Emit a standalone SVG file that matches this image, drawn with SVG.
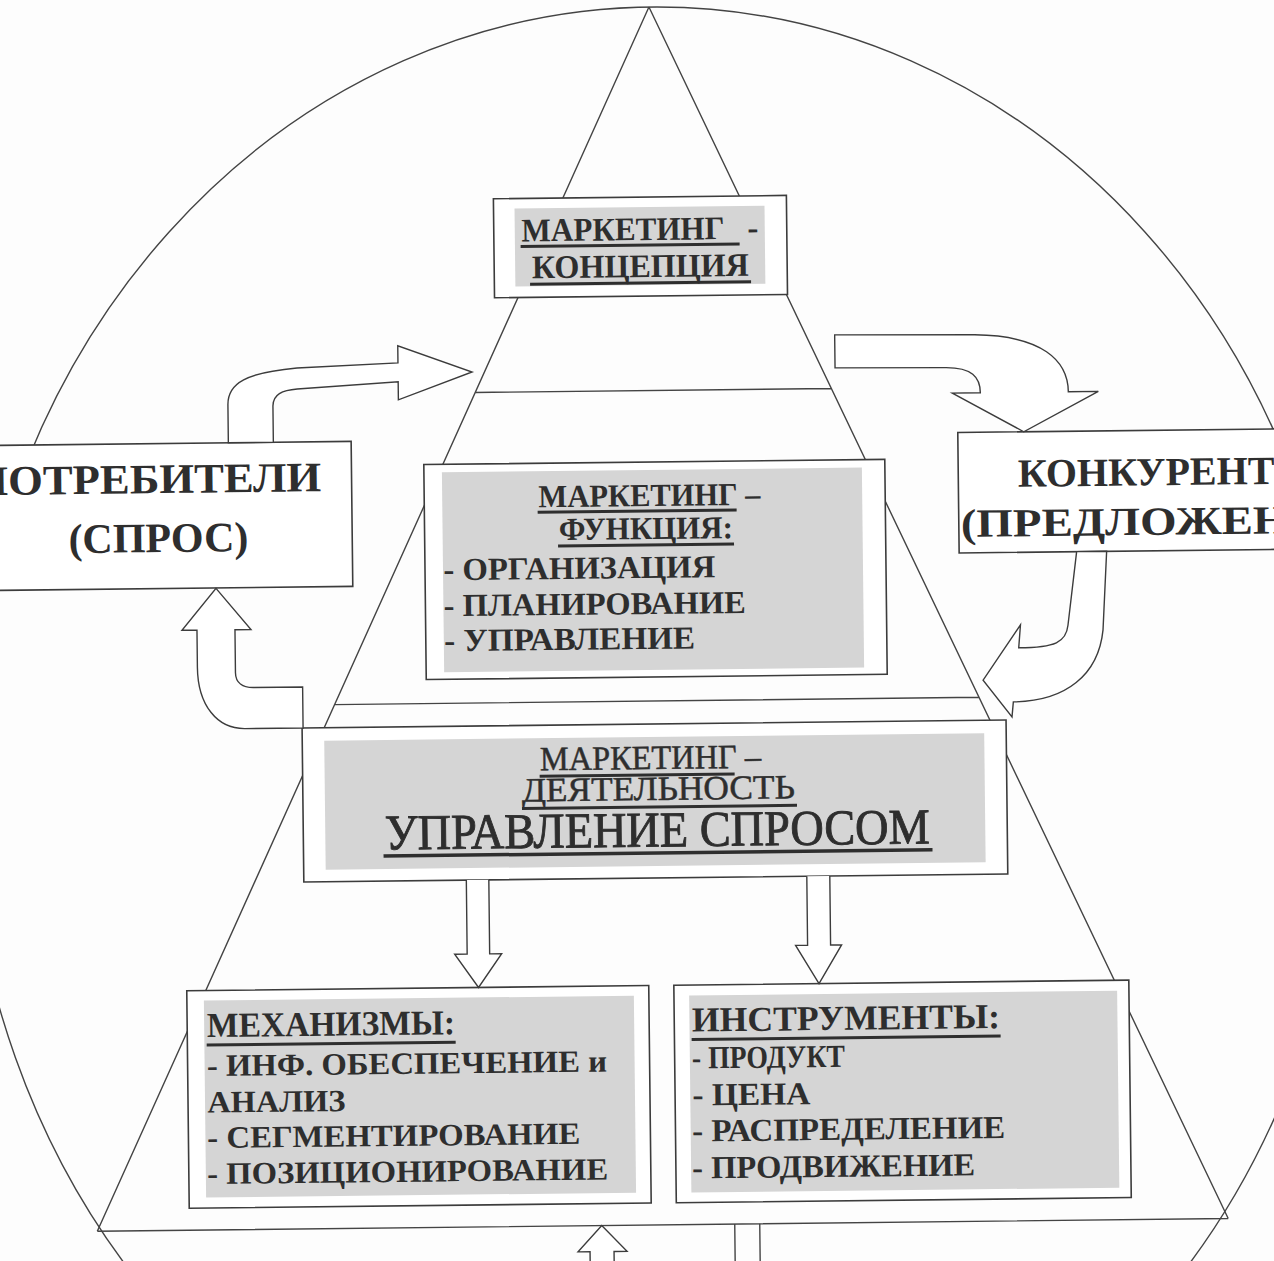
<svg xmlns="http://www.w3.org/2000/svg" width="1274" height="1261" viewBox="0 0 1274 1261">
<style>
.bg{fill:#fdfdfd}
.ln{fill:none;stroke:#444;stroke-width:1.4}
.box{fill:#fff;stroke:#3c3c3c;stroke-width:1.6}
.shade{fill:#d5d5d5}
.arr{fill:#fff;stroke:#3c3c3c;stroke-width:1.4;stroke-linejoin:miter}
.t{font-family:"Liberation Serif","Times New Roman",serif;fill:#2e2e2e}
.b{font-weight:bold}
.r{font-weight:normal;stroke:#2e2e2e;stroke-width:0.5}
.ul{stroke:#2e2e2e;stroke-width:3}
</style>
<rect class="bg" width="1274" height="1261"/>
<ellipse id="outer-ellipse" class="ln" cx="657" cy="775" rx="690" ry="768"/>
<g transform="rotate(-0.65 650 630)">
<g id="pyramid">
<path class="ln" d="M656,7 L90.5,1225 M656,7 L1221.5,1225 M477.9,390.5 H834.1 M333.8,701 H978.2 M90.5,1225 H1221.5"/>
</g>
<g id="concept">
<rect class="box" x="498.3" y="197" width="293" height="99"/>
<rect class="shade" x="519.3" y="207" width="250" height="78"/>
<text class="t b" x="526" y="240" font-size="33" textLength="203" lengthAdjust="spacingAndGlyphs">МАРКЕТИНГ</text>
<text class="t b" x="752" y="240" font-size="33">-</text>
<line class="ul" x1="525" y1="245" x2="744" y2="245"/>
<text class="t b" x="536" y="277" font-size="33" textLength="217" lengthAdjust="spacingAndGlyphs">КОНЦЕПЦИЯ</text>
<line class="ul" x1="534" y1="283" x2="755" y2="283"/>
</g>
<g id="consumers">
<rect class="box" x="-100" y="438" width="453.3" height="145"/>
<text class="t b" x="-25" y="487.5" font-size="42" textLength="348" lengthAdjust="spacingAndGlyphs">ПОТРЕБИТЕЛИ</text>
<text class="t b" x="159.5" y="546.5" font-size="42" text-anchor="middle">(СПРОС)</text>
</g>
<g id="competitors">
<rect class="box" x="960" y="436" width="400" height="120.5"/>
<text class="t b" x="1019.5" y="491" font-size="40">КОНКУРЕНТЫ</text>
<text class="t b" x="962" y="540.5" font-size="40" textLength="412" lengthAdjust="spacingAndGlyphs">(ПРЕДЛОЖЕНИЕ)</text>
</g>
<g id="function">
<rect class="box" x="425.7" y="462" width="461" height="215"/>
<rect class="shade" x="443.7" y="470" width="420" height="200"/>
<text class="t b" x="540" y="506" font-size="32" textLength="222" lengthAdjust="spacingAndGlyphs">МАРКЕТИНГ –</text>
<line class="ul" x1="539" y1="511" x2="738" y2="511"/>
<text class="t b" x="560" y="539" font-size="32" textLength="174" lengthAdjust="spacingAndGlyphs">ФУНКЦИЯ:</text>
<line class="ul" x1="559" y1="545" x2="735" y2="545"/>
<text class="t b" x="444" y="578" font-size="32" textLength="272" lengthAdjust="spacingAndGlyphs">- ОРГАНИЗАЦИЯ</text>
<text class="t b" x="444" y="614" font-size="32" textLength="302" lengthAdjust="spacingAndGlyphs">- ПЛАНИРОВАНИЕ</text>
<text class="t b" x="444" y="649" font-size="32" textLength="251" lengthAdjust="spacingAndGlyphs">- УПРАВЛЕНИЕ</text>
</g>
<g id="activity">
<rect class="box" x="301" y="724" width="704" height="154"/>
<rect class="shade" x="323" y="737" width="660" height="129"/>
<text class="t r" x="538.5" y="769" font-size="34" textLength="221" lengthAdjust="spacingAndGlyphs">МАРКЕТИНГ –</text>
<line class="ul" x1="538" y1="775" x2="733" y2="775"/>
<text class="t r" x="520" y="800" font-size="34" textLength="273" lengthAdjust="spacingAndGlyphs">ДЕЯТЕЛЬНОСТЬ</text>
<line class="ul" x1="520" y1="807" x2="795" y2="807"/>
<text class="t r" x="382.5" y="846.5" font-size="50" textLength="545" lengthAdjust="spacingAndGlyphs" style="stroke-width:0.9">УПРАВЛЕНИЕ СПРОСОМ</text>
<line class="ul" x1="381" y1="853" x2="930" y2="853" style="stroke-width:3.5"/>
</g>
<g id="mechanisms">
<rect class="box" x="182.7" y="985.5" width="462" height="217.5"/>
<rect class="shade" x="199.7" y="995.5" width="430" height="197"/>
<text class="t b" x="202.5" y="1032" font-size="35" textLength="248" lengthAdjust="spacingAndGlyphs">МЕХАНИЗМЫ:</text>
<line class="ul" x1="202" y1="1040" x2="451" y2="1040"/>
<text class="t b" x="202" y="1071" font-size="31" textLength="400" lengthAdjust="spacingAndGlyphs">- ИНФ. ОБЕСПЕЧЕНИЕ и</text>
<text class="t b" x="202" y="1107.5" font-size="31" textLength="138" lengthAdjust="spacingAndGlyphs">АНАЛИЗ</text>
<text class="t b" x="201.5" y="1143" font-size="31" textLength="373" lengthAdjust="spacingAndGlyphs">- СЕГМЕНТИРОВАНИЕ</text>
<text class="t b" x="201" y="1179" font-size="31" textLength="401" lengthAdjust="spacingAndGlyphs">- ПОЗИЦИОНИРОВАНИЕ</text>
</g>
<g id="instruments">
<rect class="box" x="669.8" y="985.5" width="455" height="217.5"/>
<rect class="shade" x="685" y="996" width="428" height="197"/>
<text class="t b" x="687.5" y="1032" font-size="35" textLength="308" lengthAdjust="spacingAndGlyphs">ИНСТРУМЕНТЫ:</text>
<line class="ul" x1="687" y1="1040" x2="996" y2="1040"/>
<text class="t b" x="687" y="1069" font-size="32" textLength="153" lengthAdjust="spacingAndGlyphs">- ПРОДУКТ</text>
<text class="t b" x="687" y="1106" font-size="32" textLength="118" lengthAdjust="spacingAndGlyphs">- ЦЕНА</text>
<text class="t b" x="686.5" y="1142" font-size="32" textLength="313" lengthAdjust="spacingAndGlyphs">- РАСПРЕДЕЛЕНИЕ</text>
<text class="t b" x="686" y="1179" font-size="32" textLength="283" lengthAdjust="spacingAndGlyphs">- ПРОДВИЖЕНИЕ</text>
</g>
<g id="connectors">
<path id="arrow-consumers-concept" class="arr" d="M230.5,438 L230.5,400 C230.5,378 250,368 300,364 L401,360 L401,343 L475,370 L401,397 L401,379 L300,385 C285,386 275.5,390 275.5,402 L275.5,438 Z"/>
<path id="arrow-concept-competitors" class="arr" d="M838,337 L978,338.5 C1045,340 1071,365 1071,396.5 L1101,396.5 L1026,436 L955,396.5 L983,396.5 C983,381 975,371 948,371 L838,370 Z"/>
<path id="arrow-competitors-function" class="arr" d="M1077.5,556.5 L1068,630 C1066,647 1055,652 1018.5,652 L1020.5,629 L982.5,684 L1011,721 L1012.5,706 C1065,706 1098,680 1103,635 L1107.5,556.5 Z"/>
<path id="arrow-activity-consumers" class="arr" d="M216.5,583.5 L251,625 L235,625 L235,668 C235,678 242,683 253,683 L302,683 L302,724 L244,724 C216,724 197,700 197,662 L197,625 L182,625 Z"/>
<path id="arrow-activity-mechanisms" class="arr" d="M463.5,878 V952 H451 L474.5,985.5 L498,952 H486 V878"/>
<path id="arrow-activity-instruments" class="arr" d="M804,878 V947 H792 L815,985.5 L838,947 H827 V878"/>
<path id="arrow-up-bottom" class="arr" d="M583,1300 V1251 H571 L595,1225 L620,1251 H607 V1300"/>
<path id="arrow-down-bottom" class="ln" d="M728,1225 V1300 M753,1225 V1300"/>
</g>
</g>
</svg>
